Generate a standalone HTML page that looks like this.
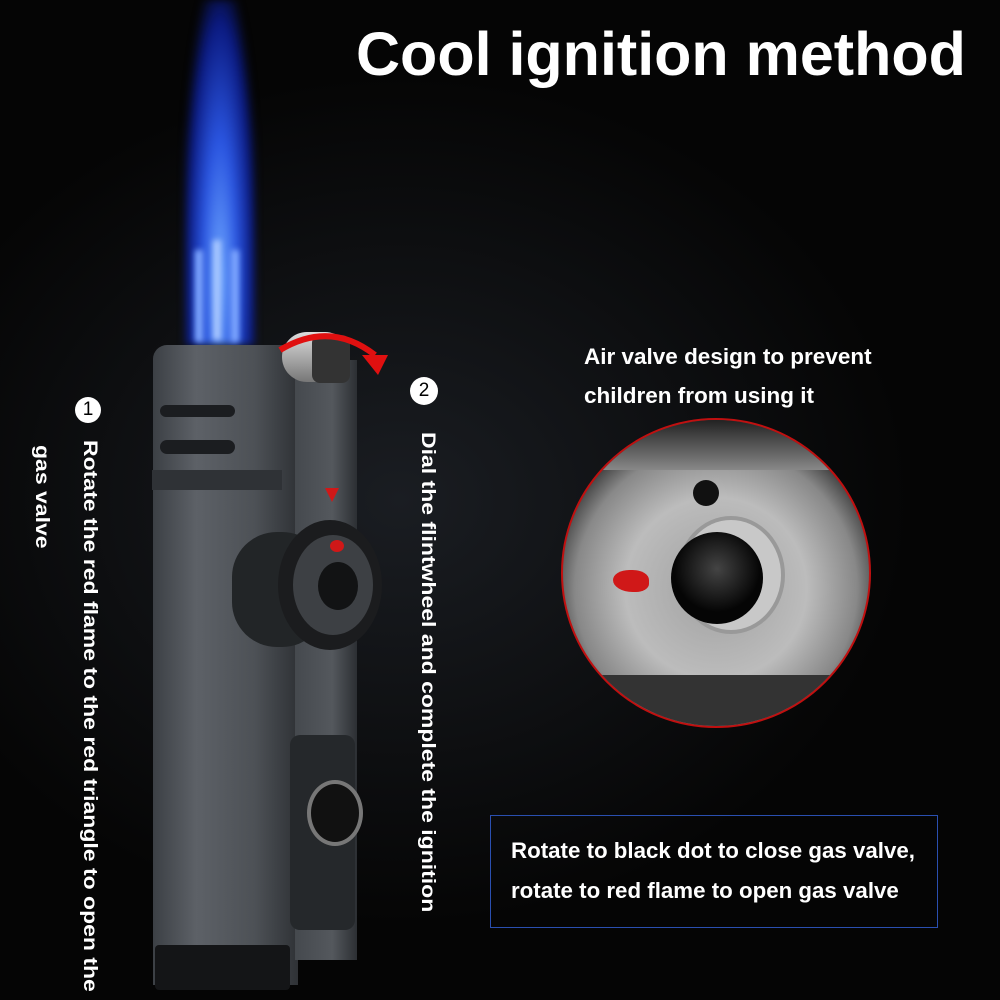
<!DOCTYPE html>
<html><head><style>
body{margin:0;width:1000px;height:1000px;background:#000;overflow:hidden;position:relative;font-family:"Liberation Sans",sans-serif;}
.a{position:absolute}
.t{color:#fff;font-weight:bold}
.v{position:absolute;color:#fff;font-weight:bold;font-size:19px;white-space:nowrap;transform-origin:0 0;transform:rotate(90deg) scaleX(1.21)}
</style></head><body>
<div class="a" style="left:0;top:0;width:1000px;height:1000px;background:radial-gradient(ellipse at 40% 50%,#1a1d22 0%,#050505 60%)"></div>
<div class="a t" style="left:356px;top:19px;font-size:61px">Cool ignition method</div>
<!-- flame -->
<div class="a" style="left:185px;top:0;width:70px;height:345px;background:radial-gradient(ellipse at 50% 80%,#6fa8ff 0%,#2a55e0 35%,#0b1a80 65%,rgba(0,0,0,0) 80%);filter:blur(4px)"></div>
<div class="a" style="left:195px;top:250px;width:8px;height:92px;background:#7fa8ff;filter:blur(3px)"></div>
<div class="a" style="left:213px;top:240px;width:8px;height:100px;background:#a9c8ff;filter:blur(3px)"></div>
<div class="a" style="left:231px;top:250px;width:8px;height:92px;background:#7fa8ff;filter:blur(3px)"></div>
<!-- lighter body -->
<div class="a" style="left:153px;top:345px;width:145px;height:640px;border-radius:14px 4px 0 0;background:linear-gradient(90deg,#3c4045,#5d6167 30%,#4d5156 70%,#2f3236)"></div>
<div class="a" style="left:295px;top:360px;width:62px;height:600px;background:linear-gradient(90deg,#45494e,#54585d 60%,#2c2f33)"></div>
<div class="a" style="left:152px;top:470px;width:130px;height:20px;background:#2f3236"></div>
<div class="a" style="left:160px;top:405px;width:75px;height:12px;border-radius:6px;background:#1b1d20"></div>
<div class="a" style="left:160px;top:440px;width:75px;height:14px;border-radius:7px;background:#1b1d20"></div>
<div class="a" style="left:155px;top:945px;width:135px;height:45px;background:#141517;border-radius:4px"></div>
<!-- flint wheel -->
<div class="a" style="left:282px;top:332px;width:68px;height:50px;border-radius:25px;background:linear-gradient(#ddd,#777);"></div>
<div class="a" style="left:312px;top:335px;width:38px;height:48px;border-radius:8px;background:#333"></div>
<!-- red arrow -->
<svg class="a" style="left:270px;top:320px" width="130" height="60"><path d="M10 30 Q60 0 105 35" stroke="#e01010" stroke-width="6" fill="none"/><polygon points="92,35 118,35 108,55" fill="#e01010"/></svg>
<!-- knob -->
<div class="a" style="left:232px;top:532px;width:95px;height:115px;border-radius:45px;background:#222527"></div>
<div class="a" style="left:278px;top:520px;width:104px;height:130px;border-radius:50%;background:#1b1c1e"></div>
<div class="a" style="left:293px;top:535px;width:80px;height:100px;border-radius:50%;background:#3d4044"></div>
<div class="a" style="left:318px;top:562px;width:40px;height:48px;border-radius:50%;background:#121314"></div>
<div class="a" style="left:325px;top:488px;width:14px;height:14px;background:#d01818;clip-path:polygon(0 0,100% 0,50% 100%)"></div>
<div class="a" style="left:330px;top:540px;width:14px;height:12px;background:#d01818;border-radius:50%"></div>
<!-- lower button -->
<div class="a" style="left:290px;top:735px;width:65px;height:195px;border-radius:10px;background:#25282b"></div>
<div class="a" style="left:307px;top:780px;width:48px;height:58px;border-radius:50%;background:#111;border:4px solid #777"></div>
<!-- vertical labels -->
<div class="a" style="left:75px;top:397px;width:26px;height:26px;border-radius:50%;background:#fff;color:#000;text-align:center;font-size:19px;line-height:26px">1</div>
<div class="a" style="left:410px;top:377px;width:28px;height:28px;border-radius:50%;background:#fff;color:#000;text-align:center;font-size:19px;line-height:28px">2</div>
<div class="v" style="left:100px;top:440px">Rotate the red flame to the red triangle to open the</div>
<div class="v" style="left:52px;top:445px">gas valve</div>
<div class="v" style="left:438px;top:432px">Dial the flintwheel and complete the ignition</div>
<!-- right text -->
<div class="a t" style="left:584px;top:337px;font-size:22.5px;line-height:39px">Air valve design to prevent<br>children from using it</div>
<!-- circle -->
<div class="a" style="left:561px;top:418px;width:306px;height:306px;border-radius:50%;border:2px solid #c01010;overflow:hidden;background:radial-gradient(circle at 50% 55%,#a0a0a0 0%,#bcbcbc 40%,#888 62%,#333 75%,#111 100%)">
<div class="a" style="left:118px;top:100px;width:100px;height:110px;border-radius:50%;background:#c8c8c8;box-shadow:0 0 0 4px #999"></div>
<div class="a" style="left:108px;top:112px;width:92px;height:92px;border-radius:50%;background:radial-gradient(circle at 50% 40%,#444,#050505 60%)"></div>
<div class="a" style="left:130px;top:60px;width:26px;height:26px;border-radius:50%;background:#111"></div>
<div class="a" style="left:50px;top:150px;width:36px;height:22px;background:#d01818;border-radius:50% 50% 40% 60%"></div>
<div class="a" style="left:0;top:0;width:306px;height:50px;background:linear-gradient(#222,#888)"></div>
<div class="a" style="left:0;top:255px;width:306px;height:60px;background:#333"></div>
</div>
<!-- box -->
<div class="a" style="left:490px;top:815px;width:448px;height:113px;border:1.5px solid #2a4fb0;box-sizing:border-box"></div>
<div class="a t" style="left:511px;top:831px;font-size:22.3px;line-height:40px">Rotate to black dot to close gas valve,<br>rotate to red flame to open gas valve</div>
</body></html>
